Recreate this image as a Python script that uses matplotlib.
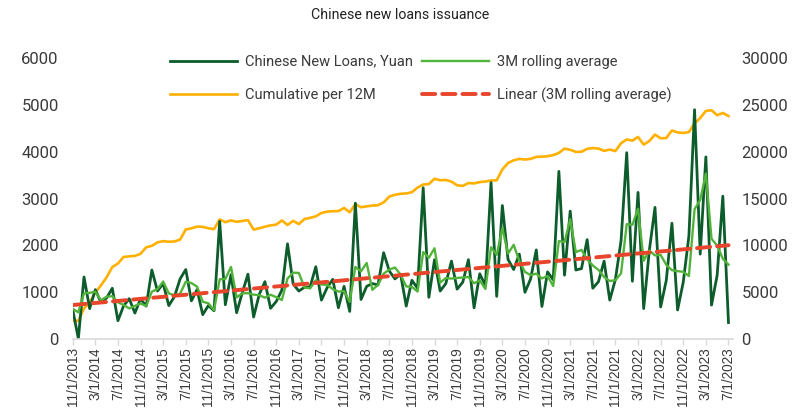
import matplotlib
matplotlib.use("Agg")
import matplotlib.pyplot as plt
from matplotlib import font_manager
import numpy as np

# ---------------- data ----------------
new_loans = [624, 0,
    1320, 644, 1050, 775, 871, 1080, 385, 702, 857, 548, 853, 697,
    1470, 1020, 1180, 708, 901, 1280, 1480, 810, 1050, 514, 709, 598,
    2510, 727, 1370, 556, 986, 1380, 464, 949, 1220, 651, 795, 1040,
    2030, 1170, 1020, 1100, 1110, 1540, 826, 1090, 1270, 663, 1120, 584,
    2900, 839, 1120, 1180, 1150, 1840, 1450, 1280, 1380, 697, 1250, 1080,
    3230, 886, 1690, 1020, 1180, 1660, 1060, 1210, 1690, 661, 1390, 1140,
    3340, 906, 2850, 1700, 1480, 1810, 993, 1280, 1900, 690, 1430, 1260,
    3580, 1360, 2730, 1470, 1500, 2120, 1080, 1220, 1660, 826, 1270, 2100,
    3980, 1230, 3130, 645, 1890, 2810, 679, 1250, 2470, 615, 1210, 2200,
    4900, 1810, 3890, 719, 1360, 3050, 346]

rolling_3m = [639, 565,
    972, 982, 1005, 823, 899, 909, 779, 722, 648, 702, 753, 699,
    1007, 1062, 1223, 969, 930, 963, 1220, 1190, 1113, 791, 758, 607,
    1272, 1278, 1536, 884, 971, 974, 943, 931, 878, 940, 889, 829,
    1288, 1413, 1407, 1097, 1077, 1250, 1159, 1152, 1062, 1008, 1018, 789,
    1535, 1441, 1620, 1046, 1150, 1390, 1480, 1523, 1370, 1119, 1109, 1009,
    1853, 1732, 1935, 1199, 1297, 1287, 1300, 1310, 1320, 1187, 1247, 1064,
    1957, 1795, 2365, 1819, 2010, 1663, 1428, 1361, 1391, 1290, 1340, 1127,
    2090, 2067, 2557, 1853, 1900, 1697, 1567, 1473, 1320, 1235, 1252, 1399,
    2450, 2437, 2780, 1668, 1888, 1782, 1793, 1580, 1466, 1445, 1432, 1342,
    2770, 2970, 3533, 2140, 1990, 1710, 1585]

cumulative_12m = [1917, 1917,
    3237, 3881, 4931, 5706, 6577, 7657, 8042, 8744, 8814, 8856, 9085, 9782,
    9932, 10308, 10438, 10371, 10401, 10601, 11696, 11804, 11997, 11963, 11819, 11720,
    12760, 12467, 12657, 12505, 12590, 12690, 11674, 11813, 11983, 12120, 12206, 12648,
    12168, 12611, 12261, 12805, 12929, 13089, 13451, 13592, 13642, 13654, 13979, 13523,
    14393, 14062, 14162, 14242, 14282, 14582, 15206, 15396, 15506, 15540, 15670, 16166,
    16496, 16543, 17113, 16953, 16983, 16803, 16413, 16343, 16653, 16617, 16757, 16817,
    16927, 16947, 18107, 18787, 19087, 19237, 19170, 19240, 19450, 19479, 19519, 19639,
    19879, 20333, 20213, 19983, 20003, 20313, 20400, 20340, 20100, 20236, 20076, 20916,
    21316, 21186, 21586, 20761, 21151, 21841, 21440, 21470, 22280, 22069, 22009, 22109,
    23029, 23609, 24369, 24443, 23913, 24153, 23820]

trend_start = 720
trend_end = 2000

tick_labels = ["11/1/2013", "3/1/2014", "7/1/2014", "11/1/2014", "3/1/2015",
    "7/1/2015", "11/1/2015", "3/1/2016", "7/1/2016", "11/1/2016", "3/1/2017",
    "7/1/2017", "11/1/2017", "3/1/2018", "7/1/2018", "11/1/2018", "3/1/2019",
    "7/1/2019", "11/1/2019", "3/1/2020", "7/1/2020", "11/1/2020", "3/1/2021",
    "7/1/2021", "11/1/2021", "3/1/2022", "7/1/2022", "11/1/2022", "3/1/2023",
    "7/1/2023"]

left_ticks = [0, 1000, 2000, 3000, 4000, 5000, 6000]
right_ticks = [0, 5000, 10000, 15000, 20000, 25000, 30000]

# ---------------- fonts ----------------
avail = {f.name for f in font_manager.fontManager.ttflist}
narrow = 'Liberation Sans Narrow' if 'Liberation Sans Narrow' in avail else 'Roboto'
NARROW = [narrow, 'DejaVu Sans']
REG = ['Liberation Sans', 'DejaVu Sans']
TXT = '#3a3a3a'

C_DARK = '#0d5c2c'
C_LIGHT = '#52b33a'
C_YEL = '#ffb000'
C_RED = '#e8452c'

W, H = 808, 411
fig = plt.figure(figsize=(W / 100, H / 100), dpi=100)
x0, x1 = 72.7, 733.0
ytop, ybot = 58.3, 338.7
ax = fig.add_axes([x0 / W, (H - ybot) / H, (x1 - x0) / W, (ybot - ytop) / H])
ax2 = ax.twinx()
ax.set_zorder(ax2.get_zorder() + 1)
ax.patch.set_visible(False)

x = np.arange(len(new_loans))

l_yel, = ax2.plot(x, cumulative_12m, color=C_YEL, lw=1.9, solid_joinstyle='round')
l_dark, = ax.plot(x, new_loans, color=C_DARK, lw=2.0, solid_joinstyle='round')
l_light, = ax.plot(x, rolling_3m, color=C_LIGHT, lw=1.7, solid_joinstyle='round')
l_red, = ax.plot([x[0], x[-1]], [trend_start, trend_end], color=C_RED, lw=2.8,
                 dashes=(3.4, 1.8), dash_capstyle='round')

ax.set_xlim(0, 116.8)
ax.set_ylim(0, 6000)
ax2.set_ylim(0, 30000)

tick_pos = x[::4]
ax.set_xticks(tick_pos)
ax.set_xticklabels(tick_labels, rotation=90, fontfamily=REG, fontsize=9.8, color=TXT)
ax.tick_params(axis='x', length=4, width=1, color='#d9d9d9', pad=2)

ax.set_yticks(left_ticks)
ax.set_yticklabels([str(v) for v in left_ticks], fontfamily=NARROW, fontsize=12, color=TXT)
ax.tick_params(axis='y', length=0, pad=10)
ax2.set_yticks(right_ticks)
ax2.set_yticklabels([str(v) for v in right_ticks], fontfamily=NARROW, fontsize=12, color=TXT)
ax2.tick_params(axis='y', length=0, pad=6)

for a in (ax, ax2):
    for s in ('left', 'right', 'top'):
        a.spines[s].set_visible(False)
ax.spines['bottom'].set_color('#d9d9d9')
ax.spines['bottom'].set_linewidth(1.2)
ax2.spines['bottom'].set_visible(False)

fig.text(400 / W, 1 - 15 / H, "Chinese new loans issuance", ha='center', va='center',
         fontfamily=NARROW, fontsize=10.2, color='#222222')

leg = ax.legend([l_dark, l_yel, l_light, l_red],
                ["Chinese New Loans, Yuan", "Cumulative per 12M",
                 "3M rolling average", "Linear (3M rolling average)"],
                ncol=2, loc='upper left', bbox_to_anchor=(158 / W, 1 - 43 / H),
                bbox_transform=fig.transFigure, frameon=False,
                prop={'family': NARROW, 'size': 10.5},
                handlelength=4.6, handletextpad=0.55, columnspacing=0.6,
                labelspacing=1.3, borderpad=0.3)
for t in leg.get_texts():
    t.set_color(TXT)

fig.savefig("out.png", dpi=100)
